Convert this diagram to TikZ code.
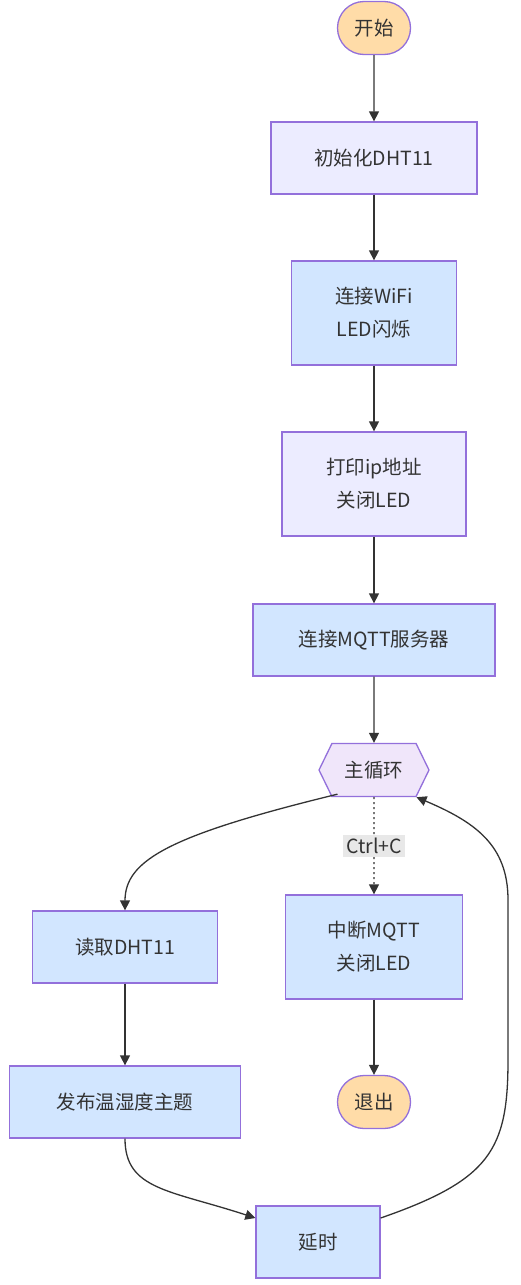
\documentclass[tikz,border=0pt]{standalone}
\usepackage{fontspec}
\setmainfont{Noto Sans CJK SC}
\usetikzlibrary{positioning,arrows.meta,shapes.misc,shapes.symbols}

\definecolor{boxlav}{HTML}{ECECFF}
\definecolor{boxblue}{HTML}{D2E6FF}
\definecolor{boxline}{HTML}{9370DB}
\definecolor{termfill}{HTML}{FFDCA8}
\definecolor{loopfill}{HTML}{F0E6FA}
\definecolor{inkcol}{HTML}{333333}
\definecolor{lblfill}{HTML}{E8E8E8}

\begin{document}
\begin{tikzpicture}[
  x=1pt, y=-1pt,
  font=\fontsize{19.5}{33}\selectfont, text=inkcol,
  >={Triangle[length=10pt,width=10pt]},
  proc/.style={draw=boxline, line width=1.3pt, fill=boxlav, align=center,
               minimum height=72pt, inner sep=2pt},
  procb/.style={proc, fill=boxblue},
  term/.style={draw=boxline, line width=1.3pt, fill=termfill, rounded rectangle,
               minimum width=77pt, minimum height=53pt, inner sep=2pt},
  loopnode/.style={draw=boxline, line width=1.3pt, fill=loopfill, signal,
                   signal to=west and east, signal pointer angle=128,
                   minimum width=110pt, minimum height=53pt, inner sep=2pt},
  arr/.style={->, line width=1.3pt, draw=inkcol},
]
\useasboundingbox (0,0) rectangle (521,1285);

\node[term]                             (start) at (374,28)   {开始};
\node[proc,  minimum width=206pt]       (init)  at (374,158)  {初始化DHT11};
\node[procb, minimum width=165pt, minimum height=104pt] (wifi) at (374,313) {连接WiFi\\LED闪烁};
\node[proc,  minimum width=184pt, minimum height=104pt] (ip)   at (374,484) {打印ip地址\\关闭LED};
\node[procb, minimum width=242pt]       (mqtt)  at (374,640)  {连接MQTT服务器};
\node[loopnode]                         (loop)  at (374,770)  {主循环};
\node[procb, minimum width=177pt, minimum height=104pt] (stop) at (374,947) {中断MQTT\\关闭LED};
\node[term]                             (quit)  at (374,1102) {退出};
\node[procb, minimum width=185pt]       (read)  at (125,947)  {读取DHT11};
\node[procb, minimum width=231pt]       (pub)   at (125,1102) {发布温湿度主题};
\node[procb, minimum width=124pt]       (wait)  at (318,1242) {延时};

\draw[arr] (start) -- (init);
\draw[arr] (init) -- (wifi);
\draw[arr] (wifi) -- (ip);
\draw[arr] (ip) -- (mqtt);
\draw[arr] (mqtt) -- (loop);
\draw[arr, dash pattern=on 2pt off 3pt] (loop) -- node[fill=lblfill, inner sep=3pt]{Ctrl+C} (stop);
\draw[arr] (stop) -- (quit);
\draw[arr] (loop.south west) ++(6,-3) .. controls (170,835) and (125,860) .. (read.north);
\draw[arr] (read) -- (pub);
\draw[arr] (pub.south) .. controls (125,1190) and (170,1190) .. (wait.west |- 0,1218);
\draw[arr] (wait.east |- 0,1218) .. controls (490,1180) and (508,1150) .. (508,1060)
  -- (508,900) .. controls (508,845) and (475,822) .. (loop.south east);
\end{tikzpicture}
\end{document}
